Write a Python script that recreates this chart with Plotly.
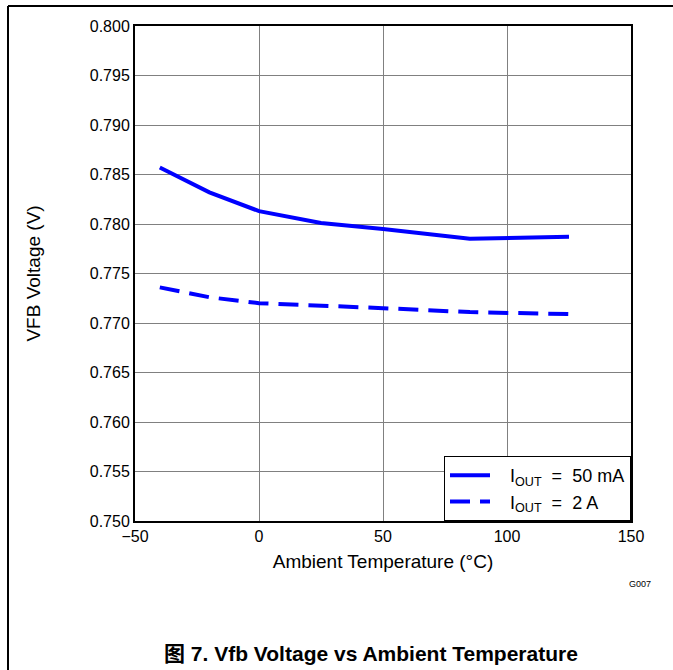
import plotly.graph_objects as go

temps = [-40, -20, 0, 25, 50, 85, 125]
vfb_50ma = [0.7857, 0.7832, 0.7813, 0.7801, 0.7795, 0.7785, 0.7787]
vfb_2a = [0.7736, 0.7726, 0.7720, 0.7717, 0.7715, 0.7711, 0.7709]
names = ["\u00a0\u00a0\u00a0I<sub>OUT</sub>  =  50 mA", "\u00a0\u00a0\u00a0I<sub>OUT</sub>  =  2 A"]

W, H = 673, 670
L, R, T, B = 135, 631, 26, 521

def px(x):
    return (x - L) / (R - L)

def py(y):
    return (B - y) / (B - T)

fig = go.Figure()
fig.add_trace(go.Scatter(x=temps, y=vfb_50ma, mode="lines", name=names[0],
                         line=dict(color="#0000ff", width=4)))
fig.add_trace(go.Scatter(x=temps, y=vfb_2a, mode="lines", name=names[1],
                         line=dict(color="#0000ff", width=4, dash="20px,10px")))

font = "Liberation Sans, Arial, sans-serif"
fig.update_layout(
    width=W, height=H,
    margin=dict(l=L, r=W - R, t=T, b=H - B),
    paper_bgcolor="white", plot_bgcolor="white",
    font=dict(family=font, size=16, color="black"),
    legend=dict(x=1, y=0, xanchor="right", yanchor="bottom",
                bordercolor="black", borderwidth=1, bgcolor="white",
                font=dict(size=18), tracegroupgap=0, itemwidth=40),
    xaxis=dict(range=[-50, 150], dtick=50, tick0=-50, showgrid=True,
               gridcolor="#808080", gridwidth=1, zeroline=False,
               showline=True, linecolor="black", linewidth=2, mirror=True,
               ticks="", title=dict(text="Ambient Temperature (°C)", standoff=10),
               tickfont=dict(size=16)),
    yaxis=dict(range=[0.750, 0.800], dtick=0.005, tick0=0.75, tickformat=".3f",
               showgrid=True, gridcolor="#808080", gridwidth=1, zeroline=False,
               showline=True, linecolor="black", linewidth=2, mirror=True,
               ticks="", title=dict(text="VFB Voltage (V)", standoff=44),
               tickfont=dict(size=16)),
    shapes=[
        dict(type="line", xref="paper", yref="paper", x0=px(8), x1=px(W + 5),
             y0=py(6), y1=py(6), line=dict(color="black", width=2)),
        dict(type="line", xref="paper", yref="paper", x0=px(8), x1=px(8),
             y0=py(6), y1=py(H + 5), line=dict(color="black", width=2)),
    ],
    annotations=[
        dict(text="G007", xref="paper", yref="paper", x=px(640), y=py(584),
             showarrow=False, font=dict(size=9), xanchor="center", yanchor="middle"),
        dict(text="<b>图 7. Vfb Voltage vs Ambient Temperature</b>", xref="paper",
             yref="paper", x=px(371), y=py(653), showarrow=False,
             font=dict(size=21, family="Liberation Sans, Noto Sans CJK SC, sans-serif"),
             xanchor="center", yanchor="middle"),
    ],
)

fig.write_html("out.html", config={"displayModeBar": False},
               post_script="document.body.style.margin='0px';document.body.style.overflow='hidden';")
